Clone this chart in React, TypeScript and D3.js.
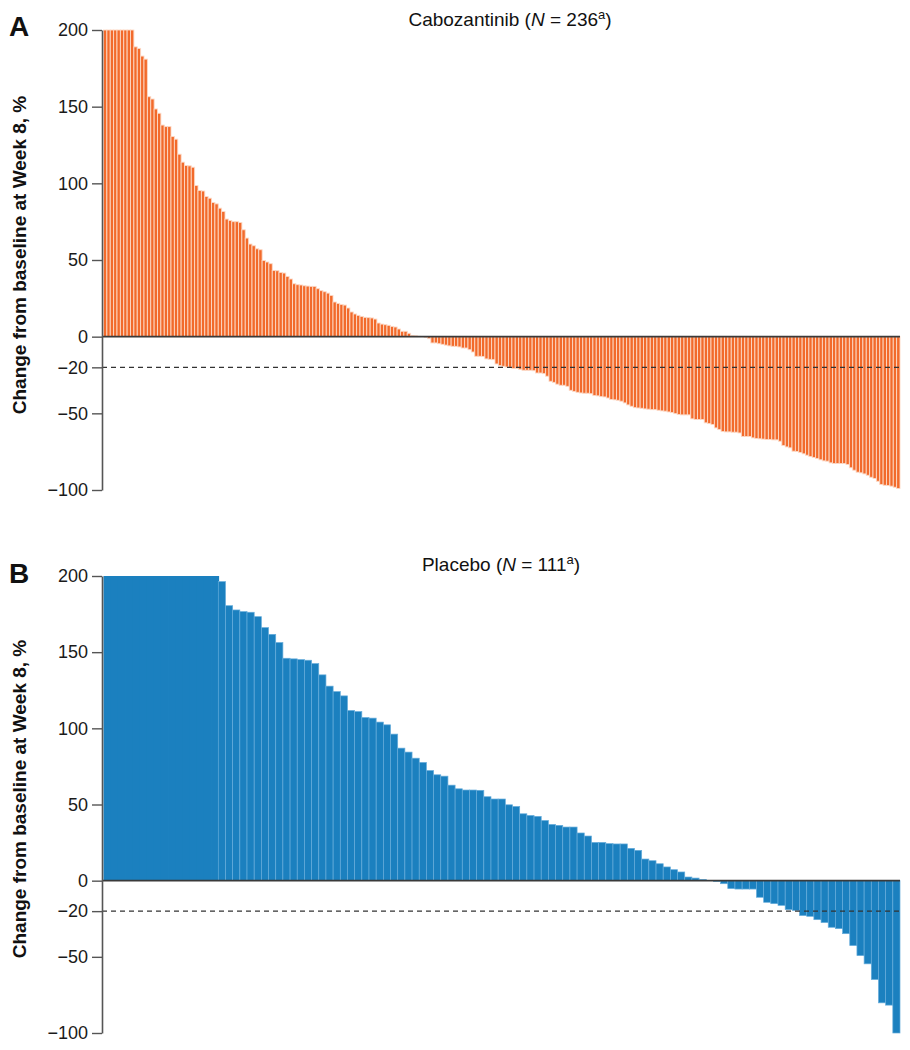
import React, { useRef, useEffect } from "react"
import * as d3 from "d3"

// % change from baseline at week 8, sorted high to low (capped at 200)
const cabozantinibChange = [
	200, 200, 200, 200, 200, 200, 200, 200, 200,
	189, 188, 183, 181, 156.5, 155, 148.5, 145.7, 138, 137, 137, 130.5,
	128.8, 119, 113.8, 111.6, 111.4, 110.5, 98.6, 95.3, 95, 91.4, 90.3, 87.5,
	86.6, 83.8, 81.6, 76.7, 75.8, 75, 75, 74.5, 69.7, 64.3, 60.4, 59.3,
	57.3, 56.7, 49.7, 48.7, 47.6, 43.2, 43, 41.9, 41.5, 39.3,
	37.6, 34.5, 33.9, 33.7, 33.2, 33, 32.8, 32.8, 31.3, 30,
	29.3, 28.4, 26.9, 22.6, 21.7, 21, 20.6, 18.7, 16.1, 14.8,
	13.9, 13.2, 12.6, 12.4, 12.2, 11.5, 8.9, 8.2, 7.8, 7.4,
	6.7, 6.3, 5, 3.5, 3.5, 2.2, 0.8, 0.5, 0.2, 0,
	-0.4, -1.3, -4.1, -4.1, -4.6, -5, -5.5, -6, -6.3, -6.3,
	-6.7, -7.4, -7.4, -8.5, -10, -12.8, -12.8, -13, -14.5, -14.8,
	-15, -17.8, -18.9, -19.3, -19.8, -20, -20.8, -20.8, -21.3, -21.9,
	-21.9, -21.9, -22.2, -23.7, -23.7, -24.1, -25.8, -29.1, -29.8, -31,
	-31.7, -31.7, -32.4, -35, -35.7, -36.3, -36.7, -36.9, -36.9, -37.2,
	-38.4, -38.6, -39.1, -39.3, -40, -41, -41.2, -41.5, -42.1, -43.2,
	-44.5, -45.4, -46.3, -46.5, -46.7, -47.1, -47.3, -47.6, -47.6, -48,
	-48.4, -48.6, -49.1, -49.5, -50.2, -50.8, -51, -51, -51, -53.6,
	-54, -54, -54, -56.2, -56.7, -57.3, -59.5, -60.6, -61.9, -62.1,
	-62.1, -62.3, -62.3, -62.8, -65.1, -65.1, -65.1, -66, -66.4, -66.6,
	-66.8, -67.1, -67.1, -67.3, -67.3, -68.2, -71, -71.9, -72.5, -74.7,
	-74.9, -75.6, -76.4, -77.3, -78.2, -78.8, -79.5, -80.3, -81, -81.2,
	-82.3, -82.7, -82.7, -82.7, -82.7, -83.4, -85.5, -87.1, -88.4, -88.8,
	-89.5, -90.4, -91.7, -92.5, -94.3, -96.4, -96.9, -97.1, -97.5, -98.2,
	-99,
]

const placeboChange = [
	200, 200, 200, 200, 200, 200, 200, 200, 200, 200, 200, 200, 200, 200, 200, 200,
	196.3, 180.5, 177.7, 176.6, 176.2, 173.3, 166.1, 161.7, 156.3, 146,
	145.6, 145.1, 144.7, 142.5, 135.1, 127.7, 124.1, 121.3, 111.7, 111,
	107.1, 106.7, 104.1, 102.3, 96.2,
	87, 84.4, 80.4, 77.6, 72.3, 69.5, 68.6, 62.7, 60.3, 59.5,
	59.5, 59.3, 55.1, 53.6, 53.6, 49.8, 48.7, 43.9, 42.8, 42.2,
	39.5, 36.9, 36.3, 35.2, 35.2, 31.3, 29.3, 25.1, 25.1, 24.3,
	24.1, 24.1, 21.2, 19.9, 14.2, 13.1, 11.1, 9, 7.2, 5.7,
	2.4, 1.7, 0.8, 0, -0.5, -2, -5.2, -5.5, -5.5, -5.5,
	-10.9, -14.2, -15.1, -16.2, -19, -19.5, -22.9, -23.4, -25.6, -27.5,
	-30.6, -31.5, -34.8, -42.6, -49.2, -54.6, -64.9, -80.2, -81.7, -100,
]

const yTicks = [200, 150, 100, 50, 0, -20, -50, -100]
const threshold = -20
const yLabel = "Change from baseline at Week 8, %"

const font = "'Liberation Sans', Arial, Helvetica, sans-serif"

const drawPanel = (svg: any, values: number[], o: any) => {
	const g = svg.append("g")
	const left = 102
	const right = 900

	const xScale = d3
		.scaleBand<number>()
		.domain(d3.range(values.length))
		.range([left + 1.5, right])
		.padding(0)

	const yScale = d3.scaleLinear().domain([-100, 200]).range([o.bottom, o.top])

	// capped bars in the placebo panel are drawn as one block (no seams)
	const merged = (d: number) => o.mergeCapped && d >= 200

	g.selectAll(".bar")
		.data(values)
		.join("rect")
		.attr("x", (d, i) => xScale(i))
		.attr("width", (d) => xScale.bandwidth() + (merged(d) ? 0.8 : 0))
		.attr("y", (d) => yScale(Math.max(0, d)))
		.attr("height", (d) => Math.abs(yScale(d) - yScale(0)))
		.attr("fill", o.fill)
		.attr("stroke", (d) => (merged(d) ? "none" : o.stroke))
		.attr("stroke-width", o.strokeWidth)

	// -20% threshold
	g.append("line")
		.attr("x1", left)
		.attr("x2", right)
		.attr("y1", yScale(threshold))
		.attr("y2", yScale(threshold))
		.attr("stroke", "#333")
		.attr("stroke-width", 1.3)
		.attr("stroke-dasharray", "5,4")

	// zero line
	g.append("line")
		.attr("x1", left)
		.attr("x2", right)
		.attr("y1", yScale(0))
		.attr("y2", yScale(0))
		.attr("stroke", "#3a3a3a")
		.attr("stroke-width", 1.6)

	const yAxis = d3
		.axisLeft(yScale)
		.tickValues(yTicks)
		.tickSize(10)
		.tickSizeOuter(0)
		.tickPadding(4)
		.tickFormat((d: any) => (d < 0 ? "\u2212" + Math.abs(d) : String(d)))

	const ax = g.append("g").attr("transform", `translate(${left}, 0)`).call(yAxis)
	ax.select(".domain").attr("stroke", "#555").attr("stroke-width", 1.6)
	ax.selectAll(".tick line").attr("stroke", "#555").attr("stroke-width", 1.4)
	ax.selectAll(".tick text")
		.attr("font-family", font)
		.attr("font-size", 18)
		.attr("fill", "#1a1a1a")

	g.append("text")
		.attr("transform", `translate(26, ${o.labelY}) rotate(-90)`)
		.attr("text-anchor", "middle")
		.attr("font-family", font)
		.attr("font-weight", "bold")
		.attr("font-size", 19)
		.attr("fill", "#111")
		.text(yLabel)

	g.append("text")
		.attr("x", 9)
		.attr("y", o.letterY)
		.attr("font-family", font)
		.attr("font-weight", "bold")
		.attr("font-size", 28)
		.attr("fill", "#111")
		.text(o.letter)

	const title = g
		.append("text")
		.attr("x", o.titleX)
		.attr("y", o.titleY)
		.attr("text-anchor", "middle")
		.attr("font-family", font)
		.attr("font-size", 19)
		.attr("fill", "#111")
	title.append("tspan").text(o.name + " (")
	title.append("tspan").attr("font-style", "italic").text("N")
	title.append("tspan").text(` = ${values.length}`)
	title.append("tspan").attr("font-size", 13).attr("dy", -7).text("a")
	title.append("tspan").attr("dy", 7).text(")")
}

const App: React.FunctionComponent = () => {
	const svgRef = useRef<any>()

	useEffect(() => {
		const svg = d3.select(svgRef.current)
		svg.selectAll("*").remove()
		drawPanel(svg, cabozantinibChange, {
			top: 30,
			bottom: 490,
			fill: "#f26a2b",
			stroke: "#fcd9c6",
			strokeWidth: 0.9,
			mergeCapped: false,
			labelY: 255,
			letter: "A",
			letterY: 36,
			name: "Cabozantinib",
			titleX: 510,
			titleY: 26,
		})
		drawPanel(svg, placeboChange, {
			top: 576,
			bottom: 1033,
			fill: "#1b80bf",
			stroke: "#66acdb",
			strokeWidth: 0.7,
			mergeCapped: true,
			labelY: 799,
			letter: "B",
			letterY: 583,
			name: "Placebo",
			titleX: 501,
			titleY: 571,
		})
	}, [])

	return (
		<svg
			ref={svgRef}
			width={910}
			height={1050}
			style={{ position: "absolute", left: 0, top: 0, background: "#fff" }}
		></svg>
	)
}

export default App
